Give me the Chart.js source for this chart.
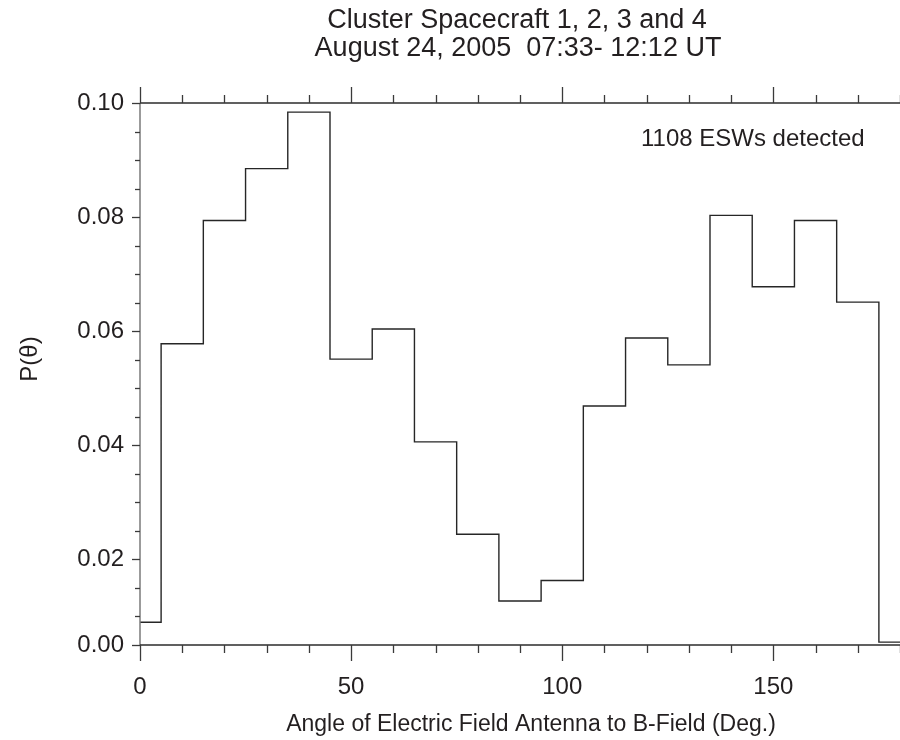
<!DOCTYPE html>
<html>
<head>
<meta charset="utf-8">
<title>Cluster ESW angle distribution</title>
<script src="https://cdn.jsdelivr.net/npm/chart.js@4.4.1/dist/chart.umd.min.js"></script>
<style>
  html, body { margin: 0; padding: 0; background: #ffffff; }
  #wrap { width: 900px; height: 740px; }
</style>
</head>
<body>
<div id="wrap"><canvas id="chart" width="900" height="740"></canvas></div>
<script>
// Histogram bin edges (degrees) and normalised probability per bin
const binEdges = [0, 5, 15, 25, 35, 45, 55, 65, 75, 85, 95, 105, 115, 125, 135, 145, 155, 165, 175, 180];
const probabilities = [0.0090, 0.0578, 0.0794, 0.0885, 0.0984, 0.0551, 0.0604, 0.0406, 0.0244, 0.0127,
                       0.0163, 0.0469, 0.0588, 0.0541, 0.0803, 0.0678, 0.0794, 0.0651, 0.0055];

// Axis ticks
const xTickValues = [0, 50, 100, 150];
const xMinorStep = 10;
const yTickValues = [0.005, 0.02, 0.04, 0.06, 0.08, 0.10];
const yTickLabels = ['0.00', '0.02', '0.04', '0.06', '0.08', '0.10'];
const yMinorStep = 0.005;

// Text
const titleLines = ['Cluster Spacecraft 1, 2, 3 and 4', 'August 24, 2005  07:33- 12:12 UT'];
const xAxisTitle = 'Angle of Electric Field Antenna to B-Field (Deg.)';
const yAxisTitle = 'P(\u03b8)';
const noteText = '1108 ESWs detected';

const FONT = '"Liberation Sans", Arial, Helvetica, sans-serif';
const INK = '#231f20';

// Step outline: each point sits at a bin's left edge; the last point closes the final bin
const stepPoints = probabilities.map((p, i) => ({ x: binEdges[i], y: p }));
stepPoints.push({ x: binEdges[binEdges.length - 1], y: probabilities[probabilities.length - 1] });

// Frame, tick marks and free text drawn on top of the scales
const framePlugin = {
  id: 'frame',
  afterDraw(chart) {
    const { ctx, chartArea: a, scales } = chart;
    const xs = scales.x, ys = scales.y;
    ctx.save();
    ctx.lineCap = 'butt';

    // left axis line (grey) and top / bottom axis lines
    ctx.lineWidth = 1.5;
    ctx.strokeStyle = '#7a7a7a';
    ctx.beginPath(); ctx.moveTo(a.left, a.top); ctx.lineTo(a.left, a.bottom + 1); ctx.stroke();
    ctx.strokeStyle = '#2b2b2b';
    ctx.beginPath(); ctx.moveTo(a.left, a.top); ctx.lineTo(a.right, a.top); ctx.stroke();
    ctx.beginPath(); ctx.moveTo(a.left, a.bottom); ctx.lineTo(a.right, a.bottom); ctx.stroke();

    // x ticks, outward on both bottom and top
    ctx.lineWidth = 1.3;
    ctx.strokeStyle = '#3a3a3a';
    for (let v = xs.min; v <= xs.max + 1e-9; v += xMinorStep) {
      const px = Math.round(xs.getPixelForValue(v)) + 0.5;
      const major = xTickValues.includes(v);
      const len = major ? 16 : 8;
      ctx.beginPath(); ctx.moveTo(px, a.bottom); ctx.lineTo(px, a.bottom + len); ctx.stroke();
      ctx.beginPath(); ctx.moveTo(px, a.top); ctx.lineTo(px, a.top - len); ctx.stroke();
    }
    // y ticks, outward on the left
    for (let v = ys.min; v <= ys.max + 1e-9; v += yMinorStep) {
      const val = Math.round(v * 1000) / 1000;
      const py = Math.round(ys.getPixelForValue(val)) + 0.5;
      const major = yTickValues.some(t => Math.abs(t - val) < 1e-6);
      const len = major ? 8 : 5;
      ctx.beginPath(); ctx.moveTo(a.left, py); ctx.lineTo(a.left - len, py); ctx.stroke();
    }

    // titles and note
    ctx.fillStyle = INK;
    ctx.textAlign = 'center';
    ctx.textBaseline = 'middle';
    ctx.font = '27px ' + FONT;
    ctx.fillText(titleLines[0], 517, 21);
    ctx.fillText(titleLines[1], 518, 49);

    ctx.font = '23px ' + FONT;
    ctx.fillText(xAxisTitle, 531, 725);

    ctx.font = '24px ' + FONT;
    ctx.textAlign = 'left';
    ctx.fillText(noteText, 641, 139);

    ctx.save();
    ctx.translate(30, 359);
    ctx.rotate(-Math.PI / 2);
    ctx.textAlign = 'center';
    ctx.font = '24px ' + FONT;
    ctx.fillText(yAxisTitle, 0, 0);
    ctx.restore();

    ctx.restore();
  }
};

new Chart(document.getElementById('chart'), {
  type: 'line',
  data: {
    datasets: [{
      data: stepPoints,
      stepped: 'before',
      borderColor: '#262626',
      borderWidth: 1.4,
      pointRadius: 0,
      fill: false,
      tension: 0
    }]
  },
  options: {
    responsive: false,
    animation: false,
    devicePixelRatio: 1,
    layout: { padding: { top: 103, left: 0, right: 0, bottom: 0 } },
    plugins: {
      legend: { display: false },
      tooltip: { enabled: false },
      title: { display: false }
    },
    scales: {
      x: {
        type: 'linear',
        min: 0,
        max: 180,
        afterBuildTicks: s => { s.ticks = xTickValues.map(v => ({ value: v })); },
        afterFit: s => { s.height = 95; },
        grid: { display: false, drawTicks: false },
        border: { display: false },
        ticks: {
          color: INK,
          font: { family: FONT, size: 24 },
          padding: 28,
          maxRotation: 0,
          autoSkip: false
        }
      },
      y: {
        type: 'linear',
        min: 0.005,
        max: 0.10,
        afterBuildTicks: s => { s.ticks = yTickValues.map(v => ({ value: v })); },
        afterFit: s => { s.width = 140; },
        grid: { display: false, drawTicks: false },
        border: { display: false },
        ticks: {
          color: INK,
          font: { family: FONT, size: 24 },
          padding: 16,
          autoSkip: false,
          callback: (v, i) => yTickLabels[i]
        }
      }
    }
  },
  plugins: [framePlugin]
});
</script>
</body>
</html>
